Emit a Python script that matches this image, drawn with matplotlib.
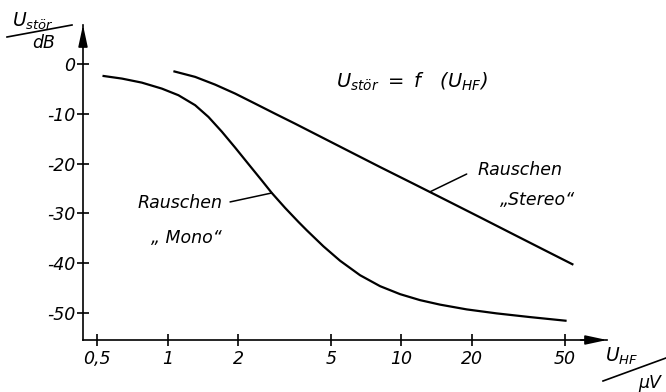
import matplotlib
matplotlib.use("Agg")
import matplotlib.pyplot as plt
from matplotlib.ticker import FixedLocator, FixedFormatter, NullLocator

# ---- data ----
mono_x = [0.527, 0.638, 0.776, 0.945, 1.113, 1.312, 1.495, 1.706, 1.945, 2.217, 2.529,
          2.79, 3.181, 3.625, 3.938, 4.636, 5.464, 6.65, 8.10, 9.86, 12.0, 14.6, 19.0,
          25.5, 35.4, 50.8]
mono_y = [-2.4, -2.95, -3.76, -4.96, -6.29, -8.29, -10.64, -13.6, -16.8, -20.1, -23.4,
          -25.9, -28.9, -31.7, -33.4, -36.6, -39.5, -42.4, -44.6, -46.2, -47.4,
          -48.3, -49.26, -50.06, -50.8, -51.55]
stereo_x = [1.059, 1.312, 1.597, 1.945, 2.367, 2.882, 3.51, 5.84, 8.10, 11.2, 15.6,
            21.7, 30.1, 41.8, 54.3]
stereo_y = [-1.47, -2.61, -4.16, -5.96, -7.97, -10.0, -12.0, -17.3, -20.7, -24.0,
            -27.4, -30.8, -34.2, -37.6, -40.3]
x_ticks = [0.5, 1, 2, 5, 10, 20, 50]
x_tick_labels = ["0,5", "1", "2", "5", "10", "20", "50"]
y_ticks = [0, -10, -20, -30, -40, -50]
y_tick_labels = ["0", "-10", "-20", "-30", "-40", "-50"]

plt.rcParams["font.family"] = ["DejaVu Sans"]
plt.rcParams["mathtext.fontset"] = "custom"
plt.rcParams["mathtext.it"] = "DejaVu Sans:italic"
plt.rcParams["mathtext.rm"] = "DejaVu Sans:italic"

fig = plt.figure(figsize=(6.66, 3.92), dpi=100)
ax = fig.add_axes([83 / 666, 1 - 340 / 392, (607 - 83) / 666, (340 - 25) / 392])

ax.set_xscale("log")
ax.set_xlim(0.435, 75.6)
ax.set_ylim(-55.4, 7.8)

ax.plot(mono_x, mono_y, color="black", lw=1.6, solid_capstyle="butt", solid_joinstyle="round")
ax.plot(stereo_x, stereo_y, color="black", lw=1.6, solid_capstyle="butt", solid_joinstyle="round")

for s in ["top", "right"]:
    ax.spines[s].set_visible(False)
for s in ["left", "bottom"]:
    ax.spines[s].set_linewidth(1.2)

ax.xaxis.set_major_locator(FixedLocator(x_ticks))
ax.xaxis.set_major_formatter(FixedFormatter(x_tick_labels))
ax.xaxis.set_minor_locator(NullLocator())
ax.yaxis.set_major_locator(FixedLocator(y_ticks))
ax.yaxis.set_major_formatter(FixedFormatter(y_tick_labels))
ax.tick_params(axis="both", direction="inout", length=9, width=1.2, labelsize=12.5)
ax.tick_params(axis="x", pad=3)
ax.tick_params(axis="y", pad=1)
for lab in ax.get_xticklabels() + ax.get_yticklabels():
    lab.set_fontstyle("italic")

# axis arrows
arr = dict(arrowstyle="-|>,head_length=1.3,head_width=0.28", color="black", lw=1.2,
           mutation_scale=10, shrinkA=0, shrinkB=0)
ax.annotate("", xy=(1.0, 0), xytext=(0.95, 0), xycoords="axes fraction",
            textcoords="axes fraction", arrowprops=arr, annotation_clip=False)
ax.annotate("", xy=(0, 1.0), xytext=(0, 0.93), xycoords="axes fraction",
            textcoords="axes fraction", arrowprops=arr, annotation_clip=False)

fs = 12.5
# formula
ax.text(11.1, -3.6, r"$U_{stör}\ =\ f\ \ \ (U_{HF})$", fontsize=14, ha="center", va="center")

# labels with leader lines
lead = dict(arrowstyle="-", color="black", lw=1.1, shrinkA=0, shrinkB=0)
ax.annotate("", xy=(2.79, -25.9), xytext=(1.85, -27.7), arrowprops=lead)
ax.text(1.13, -27.9, "Rauschen", fontsize=fs, style="italic", ha="center", va="center")
ax.text(1.20, -34.9, "„ Mono“", fontsize=fs, style="italic", ha="center", va="center")

ax.annotate("", xy=(13.2, -25.7), xytext=(19.0, -22.1), arrowprops=lead)
ax.text(32.1, -21.3, "Rauschen", fontsize=fs, style="italic", ha="center", va="center")
ax.text(38.3, -27.3, "„Stereo“", fontsize=fs, style="italic", ha="center", va="center")

# y-axis unit label
fig.text(33 / 666, 1 - 21 / 392, r"$U_{stör}$", fontsize=13.5, ha="center", va="center")
fig.add_artist(plt.Line2D([7 / 666, 72 / 666], [1 - 37 / 392, 1 - 25 / 392],
                          transform=fig.transFigure, color="black", lw=1.2))
fig.text(44 / 666, 1 - 43 / 392, "dB", fontsize=fs, style="italic", ha="center", va="center")

# x-axis unit label
fig.text(622 / 666, 1 - 356 / 392, r"$U_{HF}$", fontsize=13.5, ha="center", va="center")
fig.add_artist(plt.Line2D([603 / 666, 1.0], [1 - 381 / 392, 1 - 358 / 392],
                          transform=fig.transFigure, color="black", lw=1.2))
fig.text(650 / 666, 1 - 383 / 392, "µV", fontsize=fs, style="italic", ha="center", va="center")

fig.savefig("out.png", dpi=100)
